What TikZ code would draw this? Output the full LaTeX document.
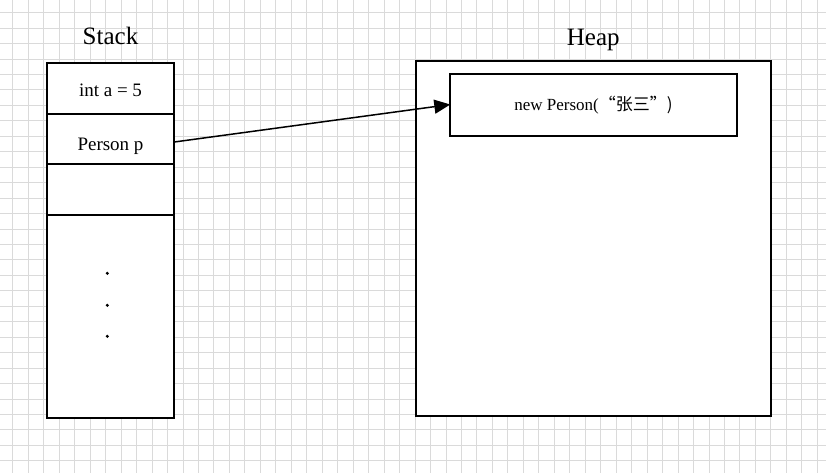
\documentclass[tikz,border=0pt]{standalone}
\usepackage{fontspec}
\setmainfont{Liberation Serif}
\newfontfamily\cjk{Noto Sans CJK SC}
\usetikzlibrary{arrows.meta}
\definecolor{gridgray}{HTML}{DADADA}
\tikzset{
  box/.style={draw=black, line width=1.7pt, fill=white},
  celltext/.style={font=\fontsize{19}{22}\selectfont, inner sep=0pt, anchor=base},
  titletext/.style={font=\fontsize{25}{30}\selectfont, inner sep=0pt, anchor=base},
  heaptext/.style={font=\fontsize{17}{20}\selectfont, inner sep=0pt, anchor=base},
  ptr/.style={line width=1.5pt, -{Triangle[length=16pt,width=14pt]}},
  dotmark/.style={circle, fill=black, inner sep=0pt, minimum size=3.4pt}
}
\begin{document}
\begin{tikzpicture}[x=1pt,y=-1pt]
\useasboundingbox (0,0) rectangle (826,473);
\fill[white] (0,0) rectangle (826,473);
% grid
\foreach \k in {0,...,52} {
  \draw[gridgray, line width=0.9pt] ({12.8+15.47*\k},0) -- ({12.8+15.47*\k},473);
}
\foreach \k in {0,...,29} {
  \draw[gridgray, line width=0.9pt] (0,{12.7+15.45*\k}) -- (826,{12.7+15.45*\k});
}
% stack
\node[titletext] (stacktitle) at (110.5,45) {Stack};
\draw[box] (47,62.7) rectangle (174.3,418);
\draw[box] (47,113.7) -- (174.3,113.7);
\draw[box] (47,164) -- (174.3,164);
\draw[box] (47,215) -- (174.3,215);
\node[celltext] (cella) at (110.5,96.5) {int a = 5};
\node[celltext] (cellp) at (110.5,150) {Person p};
\coordinate (pstart) at (174.3,142);
\node[dotmark] (d1) at (107.3,273.3) {};
\node[dotmark] (d2) at (107.3,305.3) {};
\node[dotmark] (d3) at (107.3,336.3) {};
% heap
\node[titletext] (heaptitle) at (593.3,46) {Heap};
\draw[box] (415.7,60.7) rectangle (771.3,415.7);
\draw[box] (450.3,74.3) rectangle (737,136.3);
\node[heaptext] (obj) at (593.5,111) {new Person(\cjk{“张三”})};
\coordinate (pend) at (450.3,104.5);
\draw[ptr] (pstart) -- (pend);
\end{tikzpicture}
\end{document}
